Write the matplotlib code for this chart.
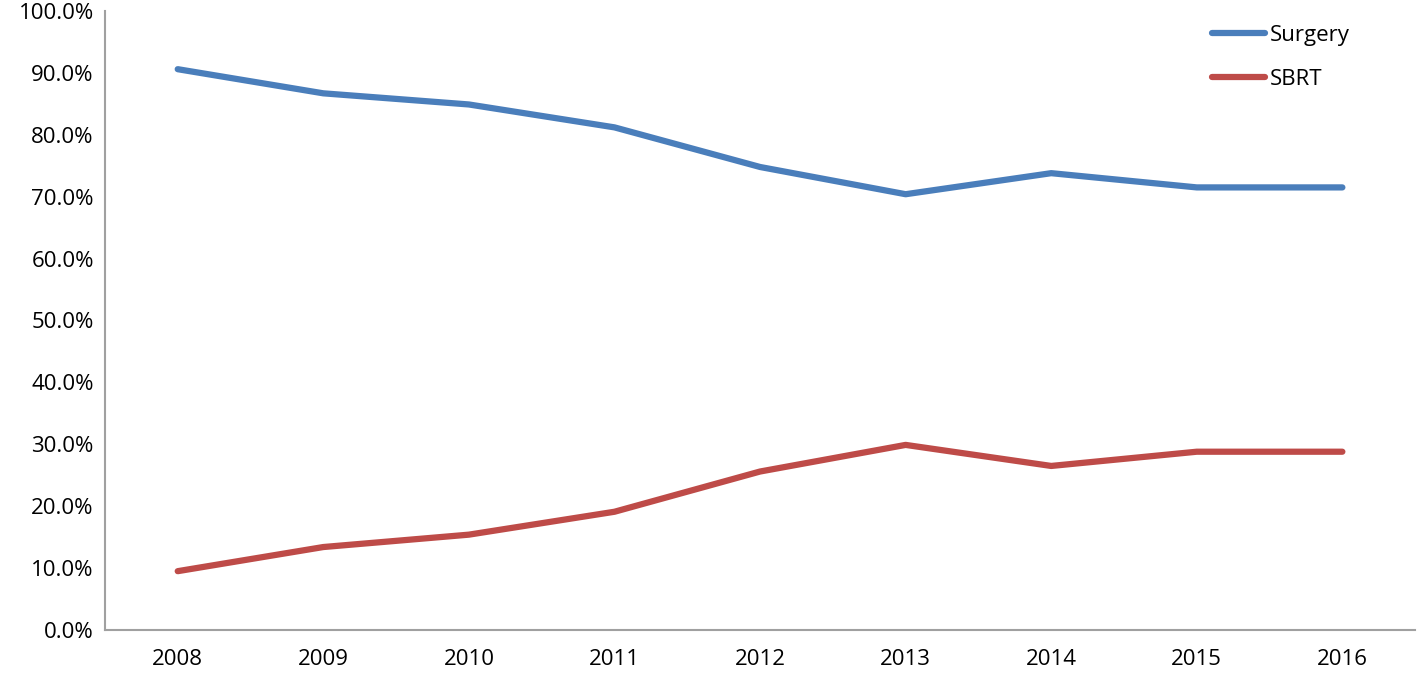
import matplotlib.pyplot as plt
from matplotlib.ticker import FuncFormatter

plt.rcParams['font.family'] = ['Open Sans', 'DejaVu Sans']

years = ['2008', '2009', '2010', '2011', '2012', '2013', '2014', '2015', '2016']
surgery = [90.6, 86.7, 84.9, 81.2, 74.8, 70.4, 73.8, 71.5, 71.5]
sbrt = [9.5, 13.4, 15.4, 19.1, 25.6, 29.9, 26.5, 28.8, 28.8]

fig = plt.figure(figsize=(14.18, 6.75), dpi=100)
ax = fig.add_axes([0.074, 0.0667, 0.924, 0.917])

x = range(len(years))
ax.plot(x, surgery, color='#4A7EBB', lw=4.5, solid_capstyle='round', label='Surgery')
ax.plot(x, sbrt, color='#BE4B48', lw=4.5, solid_capstyle='round', label='SBRT')

ax.set_xlim(-0.5, len(years) - 0.5)
ax.set_ylim(0, 100)
ax.set_yticks(range(0, 101, 10))
ax.yaxis.set_major_formatter(FuncFormatter(lambda v, p: f'{v:.1f}%'))
ax.set_xticks(list(x))
ax.set_xticklabels(years)
ax.tick_params(length=0, labelsize=16, colors='black')
ax.tick_params(axis='x', pad=14)
ax.tick_params(axis='y', pad=8)

for s in ['top', 'right']:
    ax.spines[s].set_visible(False)
for s in ['left', 'bottom']:
    ax.spines[s].set_color('#A0A0A0')
    ax.spines[s].set_linewidth(1.5)

ax.legend(loc='upper right', bbox_to_anchor=(0.965, 1.01), frameon=False, fontsize=16,
          handlelength=2.4, handletextpad=0.2, labelspacing=1.05)

fig.savefig('out.png', dpi=100)
